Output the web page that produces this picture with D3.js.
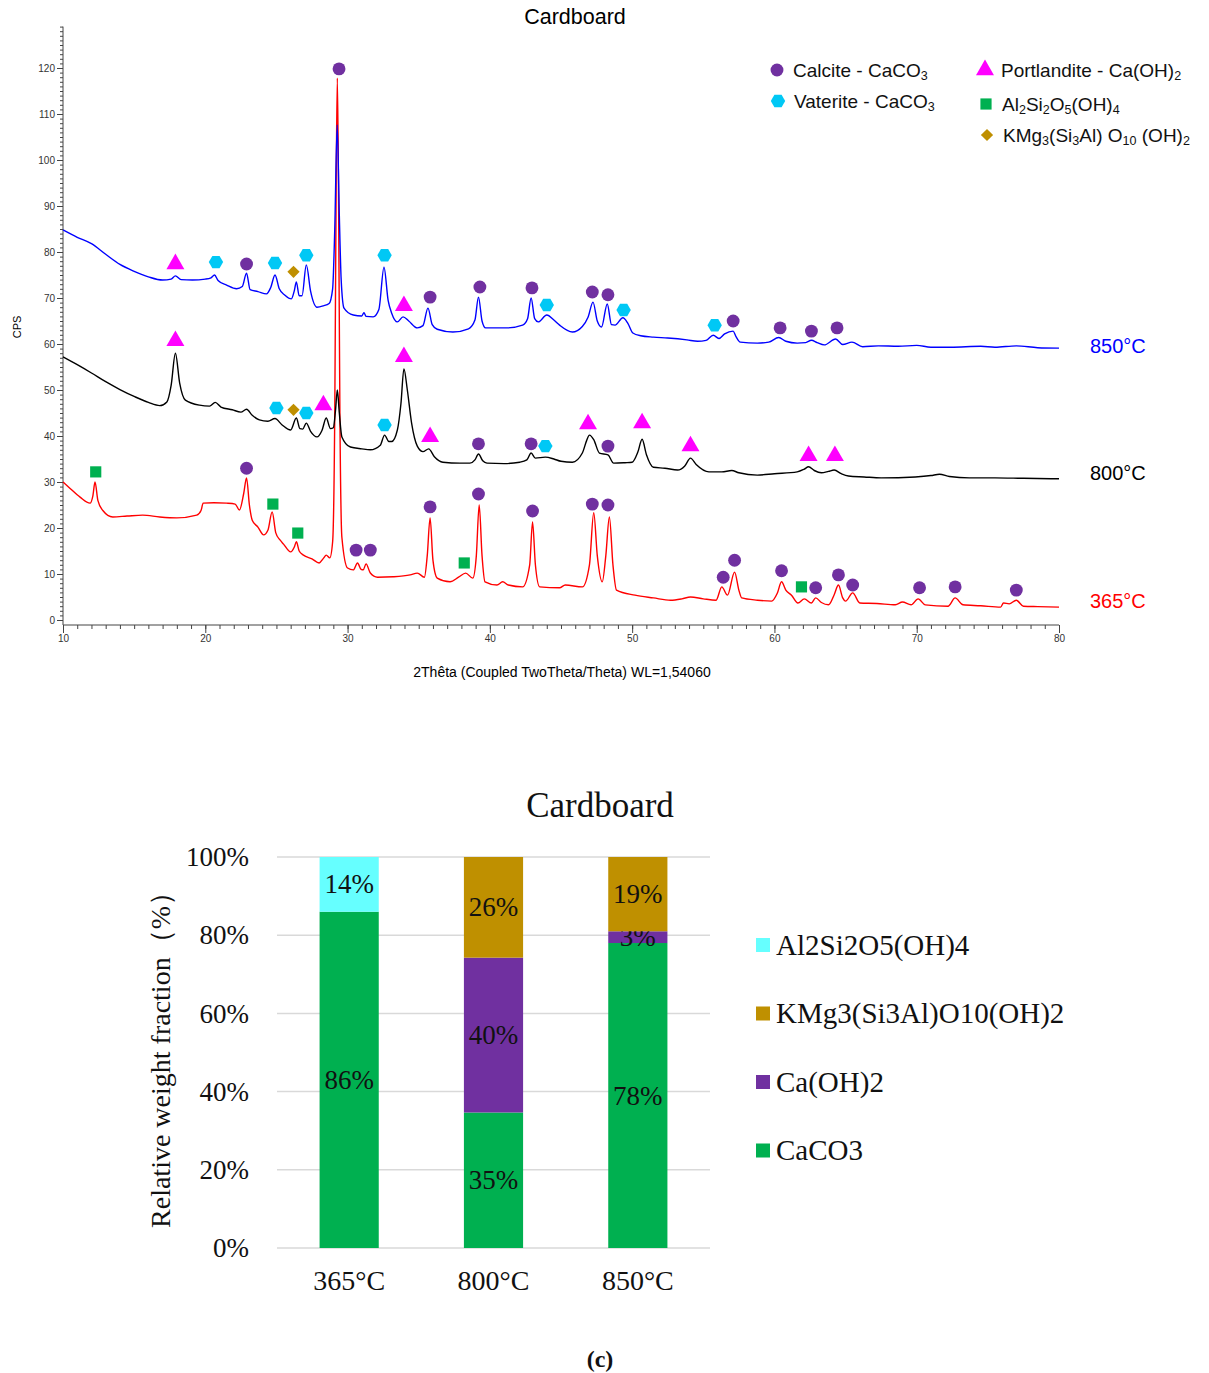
<!DOCTYPE html>
<html><head><meta charset="utf-8">
<script src="https://cdn.jsdelivr.net/npm/d3@7"></script>
<style>body{margin:0;background:#fff}</style>
</head><body>
<svg id="c" width="1209" height="1373"></svg>
<script>
// ---------- XRD data (2θ, CPS) ----------
const xrd850 = [[10,84.8],[11,83.2],[12,81.8],[13,79.5],[14,77.3],[15,75.8],[16,74.6],[17,73.9],[17.6,74.1],[17.9,74.8],[18.3,74],[19.1,73.9],[20,74.1],[20.4,74.4],[20.65,75],[20.9,73.8],[21.5,72.8],[22.2,72],[22.6,72.5],[22.9,75.4],[23.15,71.8],[23.7,71.4],[24.3,70.9],[24.6,72.3],[24.9,75],[25.2,72],[25.6,70.6],[26.05,69.8],[26.25,71.5],[26.4,73.5],[26.6,70.5],[26.8,70.5],[27.1,77.2],[27.4,71.5],[27.85,68],[28.3,68.3],[28.7,68.8],[28.95,72],[29.1,85],[29.27,107.6],[29.42,88],[29.55,74],[29.75,67.8],[30.4,66.3],[31.0,66.1],[31.15,66.8],[31.3,66],[31.8,65.9],[32.2,67.5],[32.56,76.7],[32.85,69.5],[33.1,66.7],[33.5,64.8],[33.9,65.9],[34.3,65],[34.9,63.5],[35.3,64],[35.65,67.8],[35.95,64.2],[36.3,63.2],[37.4,62.6],[38.5,63.3],[38.95,65.2],[39.2,70.2],[39.45,65],[39.7,63.5],[41.2,63.5],[42.3,64.1],[42.65,65.5],[42.9,70],[43.15,65.5],[43.4,64.8],[44.0,66.3],[44.5,65.2],[44.9,64.1],[45.8,62.6],[46.5,63.8],[46.9,65.8],[47.25,69.1],[47.55,65],[47.85,63.7],[48.25,68.7],[48.55,64.2],[48.8,64.1],[49.35,65.7],[49.7,64.5],[50.05,62.4],[50.6,61.8],[51.5,61.5],[52.5,61.3],[53.85,60.9],[54.6,60.6],[55.2,60.8],[55.7,61.9],[56.1,61.2],[56.5,62.2],[57.1,62.8],[57.3,61.6],[57.6,60.4],[58.8,60.2],[59.6,60.4],[60.3,61.4],[60.8,60.6],[61.6,60.2],[62.2,60.3],[62.6,60.8],[63.0,60.3],[63.5,59.8],[64.3,61.1],[64.8,59.9],[65.45,60.4],[66.2,59.4],[67.3,59.6],[68.7,59.5],[70.0,59.7],[71.0,59.3],[72.4,59.3],[74.5,59.5],[75.5,59.3],[77,59.6],[78.5,59.2],[80,59.1]];

const xrd800 = [[10,57.2],[11,55.5],[12,53.7],[13,51.8],[14,50.1],[15,48.6],[16,47.3],[16.8,46.6],[17.3,47.4],[17.6,51],[17.9,58],[18.2,51.5],[18.6,47.8],[19.6,46.7],[20.3,46.5],[20.7,47.3],[21.1,46.3],[21.9,45.7],[22.5,45.2],[22.9,45.8],[23.3,44.5],[23.8,43.5],[24.4,43.2],[24.9,43.8],[25.4,42.4],[26.0,41.3],[26.4,43.9],[26.65,41.6],[26.85,41.5],[27.1,42.8],[27.4,41],[27.85,39.8],[28.2,41.2],[28.5,43.9],[28.8,41.6],[29.0,41.8],[29.15,45.5],[29.28,50],[29.42,45],[29.6,39.8],[30.2,37.6],[31.0,37.2],[31.6,37],[32.3,38],[32.6,40.2],[32.9,38.8],[33.1,38.8],[33.5,41.3],[33.75,47],[33.96,54.6],[34.2,50],[34.5,42.8],[34.9,37.8],[35.3,36.6],[35.7,37.2],[36.1,35.5],[36.7,34.3],[37.9,34.1],[38.6,34.1],[38.95,34.8],[39.2,36.1],[39.5,34.6],[39.8,34.1],[41,34],[42.1,34.3],[42.6,34.8],[42.9,36.3],[43.2,35.2],[43.9,35.4],[44.5,35],[45.0,34.5],[45.8,34.3],[46.5,36.3],[46.8,39],[47.0,40.2],[47.3,39.2],[47.7,36.3],[48.3,35.9],[48.7,34.1],[49.5,34.2],[50.0,34.3],[50.4,36.5],[50.7,39.3],[51.0,36],[51.5,33.2],[52.3,33],[53.2,32.6],[53.7,33.5],[54.1,35.2],[54.5,33.8],[55.4,32.2],[56.3,32.2],[57.0,32.5],[57.5,32],[58.8,31.5],[60,31.8],[61.6,32.2],[62.1,32.8],[62.4,33.3],[62.8,32.5],[63.3,32],[63.8,32.3],[64.2,32.6],[64.7,31.8],[65.2,31.3],[66.3,31.1],[67.5,30.9],[69.9,31.1],[71,31.4],[71.6,31.7],[72.3,31.2],[73.7,30.9],[75.5,30.9],[77.5,30.8],[80,30.7]];

const xrd365 = [[10,30],[10.5,28.6],[11.2,26.7],[11.9,25.4],[12.1,27],[12.25,30],[12.45,26],[12.8,23.8],[13.5,22.4],[14.5,22.6],[15.6,22.8],[16.8,22.4],[18,22.2],[19.4,22.8],[19.7,23.8],[19.85,25.4],[20.6,25.5],[21.5,25.4],[22.1,25.2],[22.4,23.9],[22.7,27.5],[22.9,30.9],[23.1,25],[23.3,21.7],[23.7,20.2],[24.1,18.5],[24.4,19.5],[24.7,23.5],[24.95,19],[25.25,17.4],[25.5,16.5],[26.0,14.8],[26.25,15.8],[26.4,17],[26.6,15],[26.9,14.1],[27.5,13.3],[28,12.4],[28.3,13.4],[28.5,14.1],[28.75,13.5],[28.95,17],[29.1,45],[29.2,95],[29.28,117.8],[29.36,95],[29.46,45],[29.6,18],[30,11.3],[30.4,10.9],[30.7,12.4],[30.95,11],[31.1,10.9],[31.3,12.2],[31.6,10.2],[32.1,9.3],[33.2,9.4],[34.4,9.8],[34.9,10.2],[35.4,9.3],[35.6,14],[35.8,22.2],[36.0,13],[36.3,9.1],[37.2,8.3],[37.8,9.3],[38.3,10.2],[38.8,9.1],[39.05,14],[39.25,25],[39.45,14],[39.66,8.3],[40.5,7.6],[40.9,8.3],[41.3,7.6],[42.3,7.2],[42.8,12],[43.0,21.3],[43.2,12],[43.5,7.2],[44.9,7],[45.3,7.6],[46.5,7.2],[47.0,12],[47.3,23.3],[47.55,14],[47.9,8.3],[48.15,14],[48.4,22.4],[48.65,12],[48.9,6.5],[50.2,5.4],[51.5,4.8],[52.7,4.3],[53.5,4.6],[54.1,5],[55.0,4.6],[55.9,4.3],[56.3,7.2],[56.7,5.4],[57.2,10.4],[57.5,6.5],[57.7,4.8],[58.8,4.3],[59.8,4.1],[60.2,5.8],[60.5,8.3],[60.8,6.5],[61.2,5.4],[61.65,3.7],[62.1,4.6],[62.6,3.7],[62.9,4.8],[63.3,3.8],[63.8,3.3],[64.2,5.5],[64.5,7.6],[64.8,4.8],[65.0,4.1],[65.5,5.9],[66,3.7],[67.2,3.6],[68.5,3.3],[69,3.9],[69.6,3.3],[70.1,4.6],[70.6,3.3],[72.2,3],[72.7,4.8],[73.25,3.3],[74.5,3.1],[75.9,2.8],[76.1,3.7],[76.5,3.5],[77,4.3],[77.5,3],[78.5,2.9],[80,2.8]];

const seriesNames = ["850°C","800°C","365°C"];
const seriesColors = ["#0000FF","#000000","#FF0000"];

// phase markers (2θ, CPS)
const calciteMarks = [[22.9,77.4],[35.8,70.2],[39.3,72.4],[42.96,72.2],[47.2,71.3],[48.3,70.7],[57.1,65],[60.4,63.5],[62.6,62.8],[64.4,63.5],
  [39.2,38.3],[42.9,38.3],[48.3,37.8],
  [29.4,119.8],[22.9,33],[30.6,15.2],[31.6,15.2],[35.8,24.6],[39.2,27.4],[43.0,23.7],[47.2,25.2],[48.3,25],[56.4,9.3],[57.2,13],[60.5,10.7],[62.9,7],[64.5,9.8],[65.5,7.6],[70.2,7],[72.7,7.2],[77,6.5]];
const vateriteMarks = [[20.75,77.8],[24.9,77.6],[27.1,79.3],[32.6,79.3],[44.0,68.5],[49.4,67.4],[55.8,64.1],
  [25,46.1],[27.1,45],[32.6,42.4],[43.9,37.8]];
const portlanditeMarks = [[17.9,77.4],[33.96,68.3],
  [17.9,60.7],[28.3,46.7],[33.96,57.2],[35.8,39.8],[46.9,42.6],[50.7,42.8],[54.1,37.8],[62.4,35.7],[64.25,35.7]];
const kaoliniteMarks = [[12.3,32.2],[24.75,25.2],[26.5,18.9],[38.2,12.4],[61.9,7.2]];
const phlogopiteMarks = [[26.2,75.7],[26.2,45.7]];

const xTicksMajor = [10,20,30,40,50,60,70,80];
const yTicksMajor = [0,10,20,30,40,50,60,70,80,90,100,110,120];

// ---------- bar chart data ----------
const barCategories = ["365°C","800°C","850°C"];
const barPhases = ["CaCO3","Ca(OH)2","KMg3(Si3Al)O10(OH)2","Al2Si2O5(OH)4"];
const barColors = ["#00B050","#7030A0","#BF9000","#66FFFF"];
const caco3 = [86,35,78];
const caoh2 = [0,40,3];
const kmg3 = [0,26,19];
const al2si2 = [14,0,0];
const pctTicks = [0,0.2,0.4,0.6,0.8,1.0];

const svg = d3.select("#c");
svg.append("rect").attr("width",1209).attr("height",1373).attr("fill","#fff");

// ================= XRD =================
const x = d3.scaleLinear().domain([10,80]).range([63,1059]);
const y = d3.scaleLinear().domain([0,120]).range([620,68]);
const axisCol = "#444";
const g1 = svg.append("g").attr("font-family","Liberation Sans, Arial, sans-serif");

// y axis
const yMinor = d3.axisLeft(y).tickValues(d3.range(0,130,1)).tickSize(3).tickFormat("");
g1.append("g").attr("transform","translate(63,0)").call(yMinor)
  .call(s=>s.select(".domain").remove()).selectAll("line").attr("stroke",axisCol);
const yMajor = d3.axisLeft(y).tickValues(yTicksMajor).tickSize(6).tickPadding(2).tickFormat(d3.format("d"));
g1.append("g").attr("transform","translate(63,0)").call(yMajor)
  .call(s=>s.select(".domain").remove())
  .call(s=>s.selectAll("line").attr("stroke",axisCol))
  .call(s=>s.selectAll("text").attr("font-size",10).attr("fill","#333").attr("font-family","Liberation Sans, Arial"));
g1.append("line").attr("x1",63).attr("x2",63).attr("y1",y(129)).attr("y2",625).attr("stroke",axisCol);

// x axis
const xMinor = d3.axisBottom(x).tickValues(d3.range(10,81,1)).tickSize(4).tickFormat("");
g1.append("g").attr("transform","translate(0,625)").call(xMinor)
  .call(s=>s.select(".domain").remove()).selectAll("line").attr("stroke",axisCol);
const xMajor = d3.axisBottom(x).tickValues(xTicksMajor).tickSize(8).tickPadding(2).tickFormat(d3.format("d"));
g1.append("g").attr("transform","translate(0,625)").call(xMajor)
  .call(s=>s.select(".domain").remove())
  .call(s=>s.selectAll("line").attr("stroke",axisCol))
  .call(s=>s.selectAll("text").attr("font-size",10).attr("fill","#333").attr("font-family","Liberation Sans, Arial"));
g1.append("line").attr("x1",63).attr("x2",1059).attr("y1",625).attr("y2",625).attr("stroke",axisCol);

// labels
g1.append("text").attr("x",575).attr("y",24).attr("text-anchor","middle").attr("font-size",21.5).text("Cardboard");
g1.append("text").attr("transform","translate(21,327) rotate(-90)").attr("text-anchor","middle").attr("font-size",11).text("CPS");
g1.append("text").attr("x",562).attr("y",677).attr("text-anchor","middle").attr("font-size",14).text("2Thêta (Coupled TwoTheta/Theta) WL=1,54060");

// curves
const line = d3.line().x(d=>x(d[0])).y(d=>y(d[1])).curve(d3.curveMonotoneX);
[xrd365,xrd800,xrd850].forEach((s,i)=>{
  const col = [seriesColors[2],seriesColors[1],seriesColors[0]][i];
  g1.append("path").datum(s).attr("d",line).attr("fill","none").attr("stroke",col).attr("stroke-width",1.4).attr("stroke-linejoin","round");
});
// series labels
const seriesLabelY = [59.5,32.0,4.2];
seriesNames.forEach((n,i)=>{
  g1.append("text").attr("x",1090).attr("y",y(seriesLabelY[i])+7).attr("font-size",20).attr("fill",seriesColors[i]).text(n);
});

// marker shapes
const sym = {
  circle: d3.symbol().type(d3.symbolCircle).size(130),
  triangle: d3.symbol().type(d3.symbolTriangle).size(140),
  square: d3.symbol().type(d3.symbolSquare).size(125),
  diamond: d3.symbol().type(d3.symbolSquare).size(75)
};
function hexPath(r){
  const pts=d3.range(6).map(k=>{const a=Math.PI/3*k; return [r*Math.cos(a), r*Math.sin(a)];});
  return "M"+pts.map(p=>p.join(",")).join("L")+"Z";
}
const phaseDefs = [
  {data:calciteMarks, col:"#7030A0", d:sym.circle(), rot:0},
  {data:vateriteMarks, col:"#00C8F5", d:hexPath(7.2), rot:0},
  {data:portlanditeMarks, col:"#FF00FF", d:sym.triangle(), rot:0},
  {data:kaoliniteMarks, col:"#00B050", d:sym.square(), rot:0},
  {data:phlogopiteMarks, col:"#BF8F00", d:sym.diamond(), rot:45}
];
phaseDefs.forEach(p=>{
  g1.append("g").selectAll("path").data(p.data).join("path")
    .attr("d",p.d).attr("fill",p.col)
    .attr("transform",d=>`translate(${x(d[0])},${y(d[1])}) rotate(${p.rot})`);
});

// legend
function subText(sel, parts, fs){
  parts.forEach(([t,sub])=>{
    sel.append("tspan").attr("font-size",sub?fs*0.66:fs).attr("baseline-shift",sub?"-22%":null).text(t);
  });
}
const legItems = [
  {x:777,y:70,pi:0,parts:[["Calcite - CaCO",0],["3",1]]},
  {x:778,y:101,pi:1,parts:[["Vaterite - CaCO",0],["3",1]]},
  {x:985,y:70,pi:2,parts:[["Portlandite - Ca(OH)",0],["2",1]]},
  {x:986,y:104,pi:3,parts:[["Al",0],["2",1],["Si",0],["2",1],["O",0],["5",1],["(OH)",0],["4",1]]},
  {x:987,y:135,pi:4,parts:[["KMg",0],["3",1],["(Si",0],["3",1],["Al) O",0],["10",1],[" (OH)",0],["2",1]]}
];
legItems.forEach(it=>{
  const p = phaseDefs[it.pi];
  g1.append("path").attr("d",p.d).attr("fill",p.col).attr("transform",`translate(${it.x},${it.y}) rotate(${p.rot})`);
  const t = g1.append("text").attr("x",it.x+16).attr("y",it.y+6.5).attr("font-size",19).attr("fill","#111");
  subText(t,it.parts,19);
});

// ================= Bar chart =================
const g2 = svg.append("g").attr("font-family","Liberation Serif, 'Times New Roman', serif");
const xb = d3.scaleBand().domain(barCategories).range([277,710]).paddingInner(0.59).paddingOuter(0.295);
const yb = d3.scaleLinear().domain([0,1]).range([1248,857]);

g2.selectAll("line.grid").data(pctTicks).join("line").attr("class","grid")
  .attr("x1",277).attr("x2",710).attr("y1",d=>yb(d)).attr("y2",d=>yb(d))
  .attr("stroke","#D9D9D9").attr("stroke-width",1.5);
const yAx = d3.axisLeft(yb).tickValues(pctTicks).tickFormat(d3.format(".0%")).tickSize(0).tickPadding(28);
g2.append("g").attr("transform","translate(277,0)").call(yAx)
  .call(s=>s.select(".domain").remove())
  .call(s=>s.selectAll("text").attr("font-size",27).attr("fill","#111").attr("font-family","Liberation Serif, 'Times New Roman', serif"));
const xAx = d3.axisBottom(xb).tickSize(0).tickPadding(22);
g2.append("g").attr("transform","translate(0,1248)").call(xAx)
  .call(s=>s.select(".domain").remove())
  .call(s=>s.selectAll("text").attr("font-size",28).attr("fill","#111").attr("font-family","Liberation Serif, 'Times New Roman', serif"));

const barRows = barCategories.map((c,i)=>({cat:c,"CaCO3":caco3[i],"Ca(OH)2":caoh2[i],"KMg3(Si3Al)O10(OH)2":kmg3[i],"Al2Si2O5(OH)4":al2si2[i]}));
const stack = d3.stack().keys(barPhases).offset(d3.stackOffsetExpand);
const stacked = stack(barRows);
stacked.forEach((layer,li)=>{
  const gl = g2.append("g");
  layer.forEach((seg,ci)=>{
    const v = barRows[ci][barPhases[li]];
    if(!v) return;
    const x0 = xb(barCategories[ci]);
    gl.append("rect").attr("x",x0).attr("width",xb.bandwidth())
      .attr("y",yb(seg[1])).attr("height",yb(seg[0])-yb(seg[1])).attr("fill",barColors[li]);
    gl.append("text").attr("x",x0+xb.bandwidth()/2).attr("y",(yb(seg[0])+yb(seg[1]))/2+9)
      .attr("text-anchor","middle").attr("font-size",27).attr("fill","#111").text(v+"%");
  });
});

g2.append("text").attr("x",600).attr("y",817).attr("text-anchor","middle").attr("font-size",35).attr("fill","#111").text("Cardboard");
g2.append("text").attr("transform","translate(170,1053) rotate(-90)").attr("text-anchor","middle").attr("font-size",28).attr("fill","#111").text("Relative weight fraction（%）");

// legend (top to bottom reversed order)
const legOrder = [3,2,1,0];
legOrder.forEach((pi,k)=>{
  const cy = 945 + k*68.5;
  g2.append("rect").attr("x",756).attr("y",cy-7).attr("width",14).attr("height",14).attr("fill",barColors[pi]);
  g2.append("text").attr("x",776).attr("y",cy+9.5).attr("font-size",29).attr("fill","#111").text(barPhases[pi]);
});

g2.append("text").attr("x",600).attr("y",1367).attr("text-anchor","middle").attr("font-size",24).attr("font-weight","bold").attr("fill","#111").text("(c)");
</script>
</body></html>
